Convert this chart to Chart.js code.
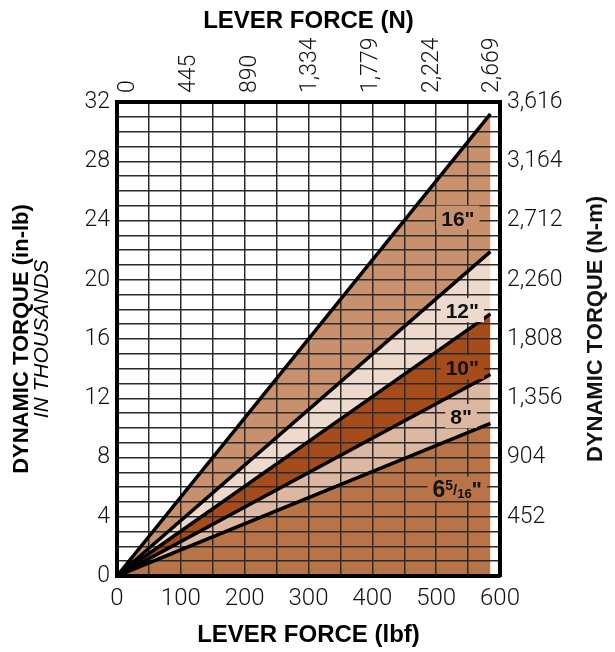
<!DOCTYPE html>
<html lang="en">

<head>
  <meta charset="UTF-8">
  <title>Dynamic Torque vs Lever Force</title>
  <style>
    body { margin: 0; background: #fff; }
    canvas { display: block; }
  </style>
</head>

<body>
  <canvas id="torqueChart" width="615" height="652"></canvas>

  <script src="https://cdn.jsdelivr.net/npm/chart.js@4"></script>

  <script>
    // lever force (lbf) where the lines start and stop
    const forceLbf = [0, 585];

    // dynamic torque, thousands of in-lb, per lever length
    const torque16 = [0, 31.2];
    const torque12 = [0, 21.9];
    const torque10 = [0, 17.7];
    const torque8 = [0, 13.6];
    const torque6 = [0, 10.3];

    const leverNames = ['16"', '12"', '10"', '8"', '6 5/16"'];

    // secondary axis tick labels
    const forceN = [0, 445, 890, 1334, 1779, 2224, 2669];
    const torqueNm = [452, 904, 1356, 1808, 2260, 2712, 3164, 3616];

    const bandColors = ['#c8906c', '#eddacd', '#a64c1b', '#dcb7a1', '#b87447'];

    const tickFont = { family: 'Roboto, "Liberation Sans", sans-serif', size: 23, weight: 300 };
    const titleFont = { family: '"Liberation Sans", Arial, sans-serif', size: 24, weight: 'bold', lineHeight: 1 };
    const sideFont = { family: '"Liberation Sans", Arial, sans-serif', size: 22, weight: 'bold', lineHeight: 1 };

    const pts = arr => forceLbf.map((f, i) => ({ x: f, y: arr[i] }));
    const series = [torque16, torque12, torque10, torque8, torque6];

    const datasets = series.map((arr, i) => ({
      label: leverNames[i],
      data: pts(arr),
      borderColor: '#000',
      borderWidth: 3.5,
      pointRadius: 0,
      backgroundColor: bandColors[i],
      fill: i < series.length - 1 ? '+1' : 'origin',
      xAxisID: 'x',
      yAxisID: 'y'
    }));

    // where each lever label sits (lbf, thousand in-lb)
    const labelSpots = [
      { x: 534, y: 24.2 },
      { x: 541, y: 17.95 },
      { x: 541, y: 14.1 },
      { x: 539, y: 10.8 },
      { x: 533, y: 5.9 }
    ];

    const bandLabels = {
      id: 'bandLabels',
      afterDraw(chart) {
        const { ctx, scales: { x, y } } = chart;
        ctx.save();
        ctx.textBaseline = 'alphabetic';
        labelSpots.forEach((s, i) => {
          const px = x.getPixelForValue(s.x);
          const py = y.getPixelForValue(s.y);
          let runs;
          if (i === 4) {
            runs = [
              { t: '6', size: 23, dy: 0 },
              { t: '5', size: 14, dy: -7 },
              { t: '/', size: 15, dy: -2 },
              { t: '16', size: 13, dy: 1 },
              { t: '"', size: 22, dy: 0 }
            ];
          } else {
            runs = [{ t: leverNames[i], size: 21, dy: 0 }];
          }
          let w = 0;
          runs.forEach(r => {
            ctx.font = 'bold ' + r.size + 'px "Liberation Sans", Arial, sans-serif';
            r.w = ctx.measureText(r.t).width;
            w += r.w;
          });
          ctx.fillStyle = bandColors[i];
          ctx.fillRect(px - w / 2 - 5, py - 12, w + 10, 24);
          ctx.fillStyle = '#111';
          let cx = px - w / 2;
          runs.forEach(r => {
            ctx.font = 'bold ' + r.size + 'px "Liberation Sans", Arial, sans-serif';
            ctx.fillText(r.t, cx, py + 8 + r.dy);
            cx += r.w;
          });
        });

        // right axis title reads bottom to top
        const r = chart.scales.y2;
        const a = chart.chartArea;
        ctx.translate(r.right - 19, (a.top + a.bottom) / 2 - 10);
        ctx.rotate(-Math.PI / 2);
        ctx.font = 'bold 22px "Liberation Sans", Arial, sans-serif';
        ctx.textAlign = 'center';
        ctx.textBaseline = 'middle';
        ctx.fillText('DYNAMIC TORQUE (N-m)', 0, 0);
        ctx.restore();
      }
    };

    const ctx = document.getElementById('torqueChart');
    new Chart(ctx, {
      type: 'line',
      data: { datasets },
      plugins: [bandLabels],
      options: {
        responsive: false,
        animation: false,
        devicePixelRatio: 1,
        layout: { padding: 0 },
        plugins: {
          legend: { display: false },
          tooltip: { enabled: false },
          // bands first, then grid, then the black lines
          filler: { drawTime: 'beforeDraw' }
        },
        scales: {
          x: {
            type: 'linear',
            position: 'bottom',
            min: 0,
            max: 600,
            ticks: {
              stepSize: 50,
              autoSkip: false,
              maxRotation: 0,
              padding: 9,
              color: '#111',
              font: { ...tickFont, size: 24 },
              callback: v => (v % 100 === 0 ? v : '')
            },
            grid: { color: '#2a2a2a', lineWidth: 1.5, drawTicks: false },
            border: { color: '#000', width: 4, z: 2 },
            title: {
              display: true,
              text: 'LEVER FORCE (lbf)',
              color: '#000',
              font: titleFont,
              padding: { top: 0, bottom: 5 }
            },
            afterFit: s => { s.height = 76; }
          },
          x2: {
            type: 'linear',
            position: 'top',
            min: -81,
            max: 2726,
            grid: { display: false, drawTicks: false },
            border: { color: '#000', width: 4, z: 2 },
            afterBuildTicks: s => { s.ticks = forceN.map(v => ({ value: v })); },
            ticks: {
              autoSkip: false,
              minRotation: 90,
              maxRotation: 90,
              padding: 9,
              labelOffset: 28,
              color: '#111',
              font: tickFont,
              callback: v => Number(v).toLocaleString('en-US')
            },
            title: {
              display: true,
              text: 'LEVER FORCE (N)',
              color: '#000',
              font: titleFont,
              padding: { top: 9, bottom: 0 }
            },
            afterFit: s => { s.height = 102; }
          },
          yTitle: {
            type: 'linear',
            position: 'left',
            weight: 1,
            min: 0,
            max: 1,
            ticks: { display: false },
            grid: { display: false, drawTicks: false },
            border: { display: false },
            title: {
              display: true,
              text: 'DYNAMIC TORQUE (in-lb)',
              color: '#000',
              font: sideFont,
              padding: { top: 11, bottom: 0 }
            },
            afterFit: s => { s.width = 32; }
          },
          y: {
            type: 'linear',
            position: 'left',
            weight: 0,
            min: 0,
            max: 32,
            ticks: {
              stepSize: 1,
              autoSkip: false,
              padding: 7,
              color: '#111',
              font: tickFont,
              callback: v => (v % 4 === 0 ? v : '')
            },
            grid: { color: '#2a2a2a', lineWidth: 1.5, drawTicks: false },
            border: { color: '#000', width: 4, z: 2 },
            title: {
              display: true,
              text: 'IN THOUSANDS',
              color: '#000',
              font: { family: '"Liberation Sans", Arial, sans-serif', size: 21, style: 'italic', lineHeight: 1 },
              padding: { top: 0, bottom: 0 }
            },
            afterFit: s => { s.width = 85; }
          },
          y2: {
            type: 'linear',
            position: 'right',
            min: 0,
            max: 3616,
            grid: { display: false, drawTicks: false },
            border: { color: '#000', width: 4, z: 2 },
            afterBuildTicks: s => { s.ticks = torqueNm.map(v => ({ value: v })); },
            ticks: {
              autoSkip: false,
              padding: 7,
              color: '#111',
              font: tickFont,
              callback: v => Number(v).toLocaleString('en-US')
            },
            afterFit: s => { s.width = 115; }
          }
        }
      }
    });
  </script>
</body>

</html>
